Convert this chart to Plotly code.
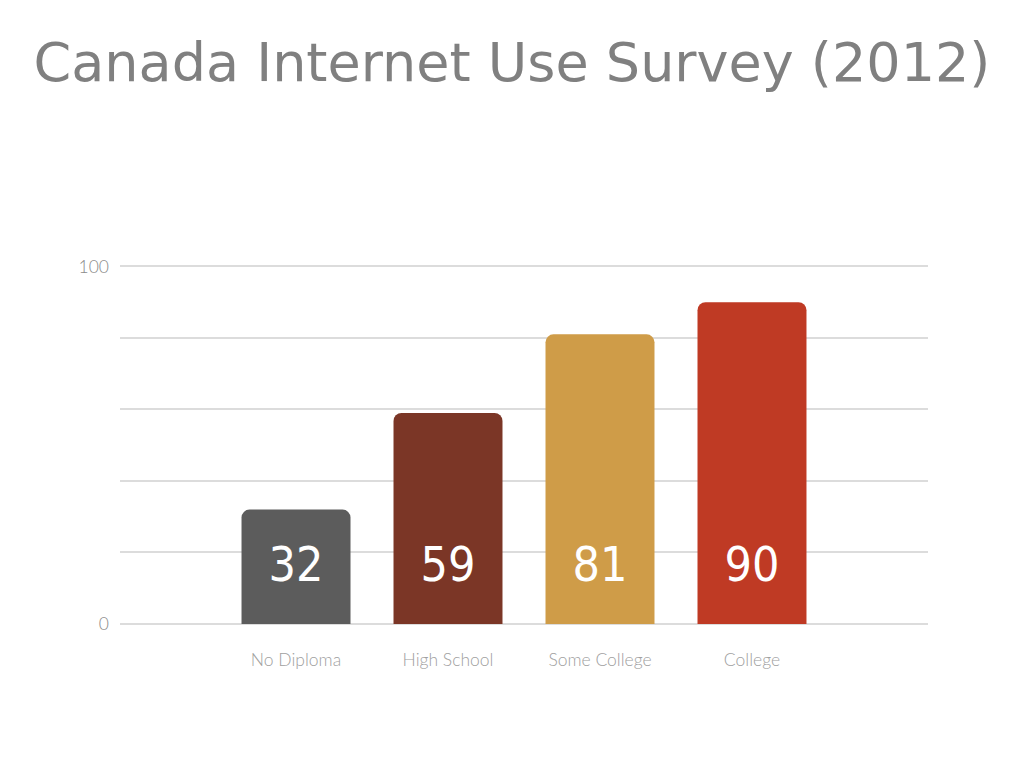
import plotly.graph_objects as go

categories = ["No Diploma", "High School", "Some College", "College"]
values = [32, 59, 81, 90]
bar_colors = ["#5c5c5c", "#7b3626", "#cf9c48", "#bf3a24"]

label_y = 15.5  # height where the value labels sit inside the bars

fig = go.Figure()
fig.add_trace(go.Bar(
    x=categories,
    y=values,
    marker=dict(color=bar_colors, cornerradius=8, line=dict(width=0)),
    width=0.717,
    hoverinfo="skip",
))
fig.add_trace(go.Scatter(
    x=categories,
    y=[label_y] * len(values),
    mode="text",
    text=[str(v) for v in values],
    textfont=dict(family="DejaVu Sans Condensed, Liberation Sans, sans-serif",
                  size=48, color="white", weight=200),
    hoverinfo="skip",
))

# page body has an 8px margin, so the margins below are shifted by 8px
fig.update_layout(
    width=1024,
    height=768,
    paper_bgcolor="white",
    plot_bgcolor="white",
    showlegend=False,
    margin=dict(l=112, r=104, t=257, b=152),
    title=dict(
        text="Canada Internet Use Survey (2012)",
        x=0.4922, xanchor="center",
        y=0.929, yanchor="middle",
        font=dict(family="DejaVu Sans", size=54, color="#808080"),
    ),
    font=dict(family="Lato", color="#8a8a8a"),
)
fig.update_xaxes(
    range=[-1.158, 4.158],
    showgrid=False,
    zeroline=False,
    showline=False,
    ticks="",
    ticklabelstandoff=23,
    tickfont=dict(family="Lato", size=17.5, color="#a0a0a0", weight=300),
)
fig.update_yaxes(
    range=[0, 100.4],
    tickvals=[0, 20, 40, 60, 80, 100],
    ticktext=["0", "", "", "", "", "100"],
    showgrid=True,
    gridcolor="#dcdcdc",
    gridwidth=1.5,
    zeroline=True,
    zerolinecolor="#dcdcdc",
    zerolinewidth=1.5,
    showline=False,
    ticks="",
    ticklabelstandoff=10,
    tickfont=dict(family="Lato", size=17.5, color="#8a8a8a", weight=300),
)

fig.write_html("out.html")
